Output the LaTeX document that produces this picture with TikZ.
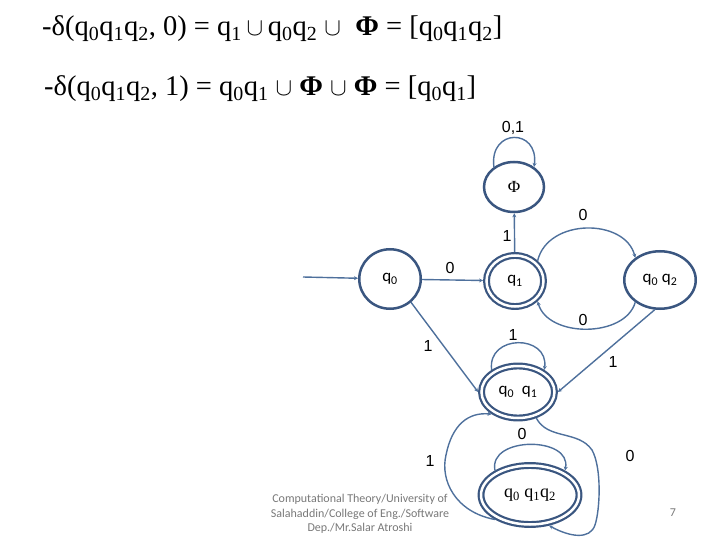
\documentclass[tikz,border=0pt]{standalone}
\usepackage{fontspec}
\setmainfont{Liberation Serif}
\newfontfamily\calfont{Carlito}
\newfontfamily\arfont{Liberation Sans}
\usetikzlibrary{shapes.geometric,arrows.meta}
\definecolor{nodecol}{RGB}{58,86,128}
\definecolor{edgecol}{RGB}{78,112,156}
\definecolor{footcol}{RGB}{120,120,120}
\newcommand\sbq[1]{q\textsubscript{#1}}
\newcommand\mycup{{\fontsize{28}{28}\selectfont$\cup$}}
\begin{document}
\begin{tikzpicture}[x=1pt,y=-1pt,
  st/.style={ellipse, draw=nodecol, line width=2.5pt, inner sep=0pt, font=\calfont\fontsize{17}{17}\selectfont},
  acc/.style={st, double=white, double distance=2.5pt, line width=2.2pt, outer sep=3.45pt},
  edge/.style={draw=edgecol, line width=1.4pt, -{Stealth[length=4pt,width=4pt]}},
  lbl/.style={font=\arfont\fontsize{16}{16}\selectfont, text=black, inner sep=0pt},
  formula/.style={anchor=base west, inner sep=0pt, font=\fontsize{28.5}{30}\selectfont},
  foot/.style={font=\calfont\fontsize{12}{14.5}\selectfont, text=footcol, align=center, inner sep=0pt}]
\useasboundingbox (0,0) rectangle (720,540);

% formulas
\node[formula] (f1) at (42,36) {-δ(\sbq{0}\sbq{1}\sbq{2}, 0) = \sbq{1}\,\mycup\,\sbq{0}\sbq{2} \mycup\ \ \textbf{Φ} = [\sbq{0}\sbq{1}\sbq{2}]};
\node[formula] (f2) at (44,96) {-δ(\sbq{0}\sbq{1}\sbq{2}, 1) = \sbq{0}\sbq{1} \mycup\ \textbf{Φ} \mycup\ \textbf{Φ} = [\sbq{0}\sbq{1}]};

% states
\node[st, minimum width=60pt, minimum height=50pt, font=\fontsize{17}{17}\selectfont] (phi) at (514,187) {Φ};
\node[st, minimum width=61.5pt, minimum height=59.5pt] (q0) at (390,279) {\sbq{0}};
\node[acc, minimum width=57pt, minimum height=51pt] (q1) at (515,281) {\sbq{1}};
\node[st, minimum width=71.5pt, minimum height=57.5pt] (q02) at (660,280) {\sbq{0} \sbq{2}};
\node[acc, minimum width=73pt, minimum height=52pt] (q01) at (518,392) {\sbq{0}\ \ \sbq{1}};
\node[acc, minimum width=98pt, minimum height=59pt, font=\fontsize{18}{18}\selectfont] (q012) at (530,495) {\sbq{0} \sbq{1}\sbq{2}};

\coordinate (start) at (303,277);

% edges
\draw[edge] (start) -- (q0);
\draw[edge] (q0) -- (q1);
\draw[edge] (q1) -- (phi);
\draw[edge] (phi.135) .. controls (489,128) and (539,128) .. (phi.45);
\draw[edge] (q1.42) .. controls (548,218) and (625,218) .. (q02.138);
\draw[edge] (q02.222) .. controls (625,338) and (548,338) .. (q1.-42);
\draw[edge] (q0.-48) -- (q01.west);
\draw[edge] (q02.-100) -- (q01.east);
\draw[edge] (q01.140) .. controls (487,334) and (549,334) .. (q01.40);
\draw[edge] (q012.145) .. controls (488,436) and (572,436) .. (q012.35);
\draw[edge] (q01.-55) .. controls (548,440) and (578,430) .. (592,450)
  .. controls (602,468) and (600,510) .. (595,525)
  .. controls (590,540) and (570,537) .. (q012.-58);
\draw[edge] (q012.-145) .. controls (455,512) and (440,480) .. (446,455)
  .. controls (452,425) and (468,412) .. (q01.-140);

% labels
\node[lbl] (l1) at (513,128) {0,1};
\node[lbl] (l2) at (507,236) {1};
\node[lbl] (l3) at (450,268) {0};
\node[lbl] (l4) at (583,215) {0};
\node[lbl] (l5) at (583,320) {0};
\node[lbl] (l6) at (428,346) {1};
\node[lbl] (l7) at (613,362) {1};
\node[lbl] (l8) at (513,335) {1};
\node[lbl] (l9) at (522,434) {0};
\node[lbl] (l10) at (630,456) {0};
\node[lbl] (l11) at (430,461) {1};

% footer
\node[foot] (ft) at (360,514) {Computational Theory/University of\\Salahaddin/College of Eng./Software\\Dep./Mr.Salar Atroshi};
\node[foot] (pg) at (673,513) {7};
\end{tikzpicture}
\end{document}
